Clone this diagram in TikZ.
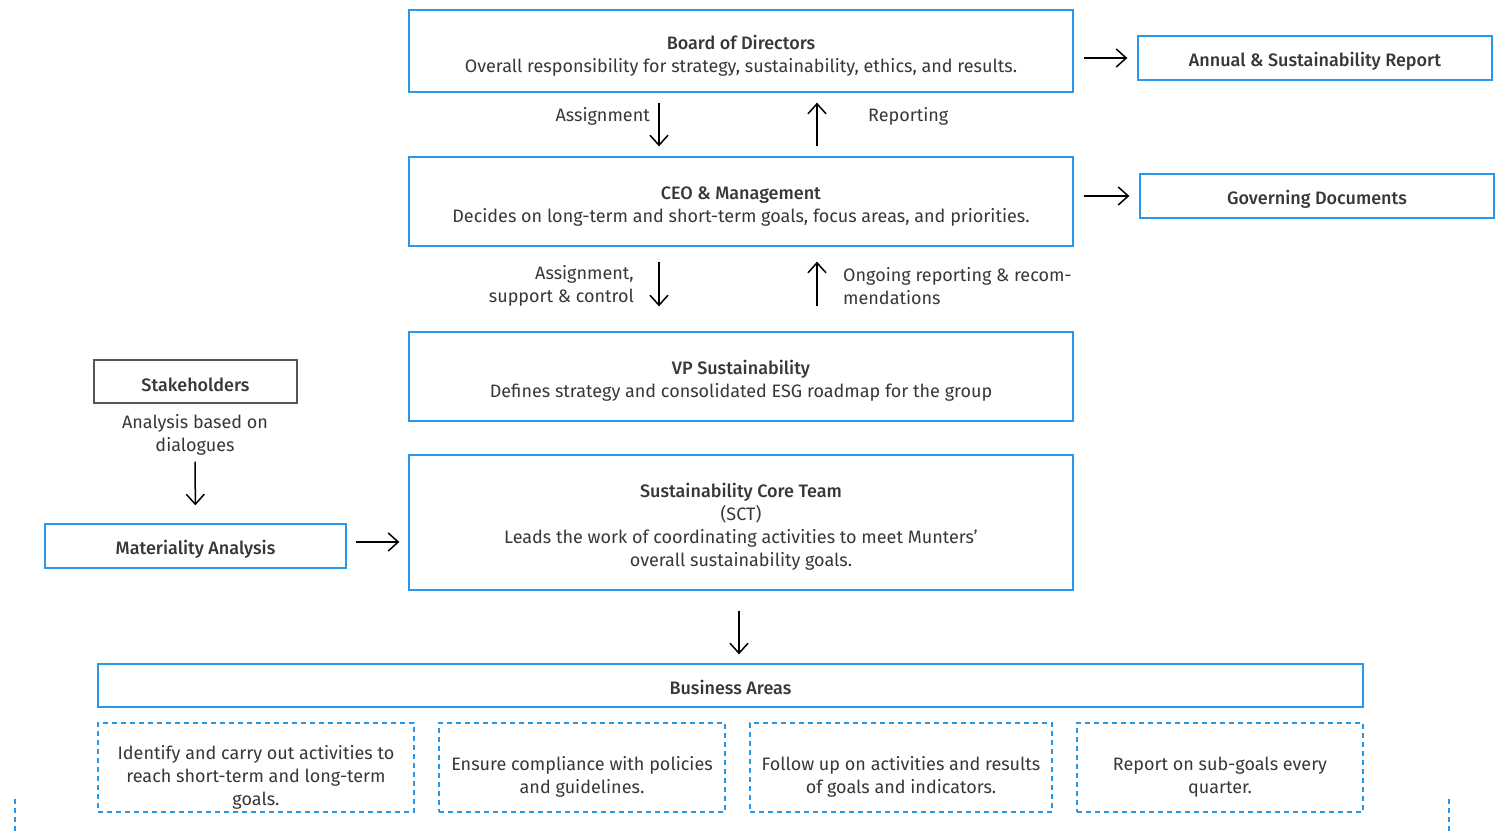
\documentclass[tikz,border=0pt]{standalone}
\usepackage{fontspec}
\setmainfont{Fira Sans}[BoldFont={Fira Sans Medium}]
\usetikzlibrary{arrows.meta,calc}
\definecolor{bblue}{RGB}{40,150,235}
\definecolor{txt}{RGB}{55,55,55}
\definecolor{gbox}{RGB}{85,85,85}
\newcommand\dnb[1]{\rule{0pt}{#1pt}}
\tikzset{
  box/.style={draw=bblue, line width=1.3pt, text=txt, align=center, inner sep=0pt,
    font=\fontsize{18}{23}\selectfont},
  gbox/.style={box, draw=gbox},
  dbox/.style={box, dash pattern=on 5pt off 4pt},
  lab/.style={text=txt, font=\fontsize{18}{23}\selectfont, inner sep=0pt},
  arr/.style={-{Straight Barb[length=10pt,width=18pt]}, line width=1.5pt, black},
  edge/.style={draw=bblue, line width=1.3pt, dash pattern=on 5pt off 4pt}
}
\begin{document}
\begin{tikzpicture}[x=1pt,y=-1pt]
\useasboundingbox (0,0) rectangle (1500,835);
% main column
\node[box, minimum width=664, minimum height=82] (board) at (741,51)
  {\dnb{23}\textbf{Board of Directors}\\Overall responsibility for strategy, sustainability, ethics, and results.};
\node[box, minimum width=664, minimum height=89] (ceo) at (741,201.5)
  {\dnb{23}\textbf{CEO \& Management}\\Decides on long-term and short-term goals, focus areas, and priorities.};
\node[box, minimum width=664, minimum height=89] (vp) at (741,376.5)
  {\dnb{23}\textbf{VP Sustainability}\\Defines strategy and consolidated ESG roadmap for the group};
\node[box, minimum width=664, minimum height=135] (sct) at (741,522.5)
  {\dnb{23}\textbf{Sustainability Core Team}\\(SCT)\\Leads the work of coordinating activities to meet Munters'\\overall sustainability goals.};
% right
\node[box, minimum width=354, minimum height=44] (report) at (1315,58)
  {\dnb{20}\textbf{Annual \& Sustainability Report}};
\node[box, minimum width=354, minimum height=44] (gov) at (1317,196)
  {\dnb{20}\textbf{Governing Documents}};
% left
\node[gbox, minimum width=203, minimum height=43] (stake) at (195.5,381.5)
  {\dnb{20}\textbf{Stakeholders}};
\node[box, minimum width=301, minimum height=44] (mat) at (195.5,546)
  {\dnb{20}\textbf{Materiality Analysis}};
\node[lab, align=center] (anl) at (195,435) {Analysis based on\\dialogues};
% bottom
\node[box, minimum width=1265, minimum height=43] (ba) at (730.5,685.5)
  {\dnb{19}\textbf{Business Areas}};
\node[dbox, minimum width=316, minimum height=89] (d1) at (256,767.5)
  {\dnb{33}Identify and carry out activities to\\reach short-term and long-term\\goals.};
\node[dbox, minimum width=286, minimum height=89] (d2) at (582,767.5)
  {\dnb{33}Ensure compliance with policies\\and guidelines.};
\node[dbox, minimum width=302, minimum height=89] (d3) at (901,767.5)
  {\dnb{33}Follow up on activities and results\\of goals and indicators.};
\node[dbox, minimum width=286, minimum height=89] (d4) at (1220,767.5)
  {\dnb{33}Report on sub-goals every\\quarter.};
% edge marks
\coordinate (el1) at (15,799); \coordinate (el2) at (15,835);
\coordinate (er1) at (1449,799); \coordinate (er2) at (1449,835);
\draw[edge] (el1) -- (el2);
\draw[edge] (er1) -- (er2);
% helper coordinates
\coordinate (xa) at (659,0);
\coordinate (xr) at (817,0);
\coordinate (xs) at (739,0);
% arrows
\draw[arr, shorten <=10pt, shorten >=10pt] (board.east |- report.west) -- (report.west);
\draw[arr, shorten <=10pt, shorten >=10pt] (ceo.east |- gov) -- (gov.west);
\draw[arr, shorten <=10pt, shorten >=10pt] (board.south -| xa) -- (ceo.north -| xa);
\draw[arr, shorten <=10pt, shorten >=10pt] (ceo.north -| xr) -- (board.south -| xr);
\draw[arr, shorten <=15pt, shorten >=25pt] (ceo.south -| xa) -- (vp.north -| xa);
\draw[arr, shorten <=25pt, shorten >=15pt] (vp.north -| xr) -- (ceo.south -| xr);
\draw[arr, shorten <=6pt, shorten >=18pt] (anl.south) -- (mat.north);
\draw[arr, shorten <=9pt, shorten >=9pt] (mat.east |- sct.center) ++(0,19.5) coordinate (mx) (mx) -- (mx -| sct.west);
\draw[arr, shorten <=20pt, shorten >=9pt] (sct.south -| xs) -- (ba.north -| xs);
% labels
\node[lab, anchor=east] (l1) at (650,116) {Assignment};
\node[lab, anchor=west] (l2) at (868,116) {Reporting};
\node[lab, anchor=east, align=right] (l3) at (634,286) {Assignment,\\support \& control};
\node[lab, anchor=west, align=left] (l4) at (843,286) {Ongoing reporting \& recom-\\mendations};
\end{tikzpicture}
\end{document}
